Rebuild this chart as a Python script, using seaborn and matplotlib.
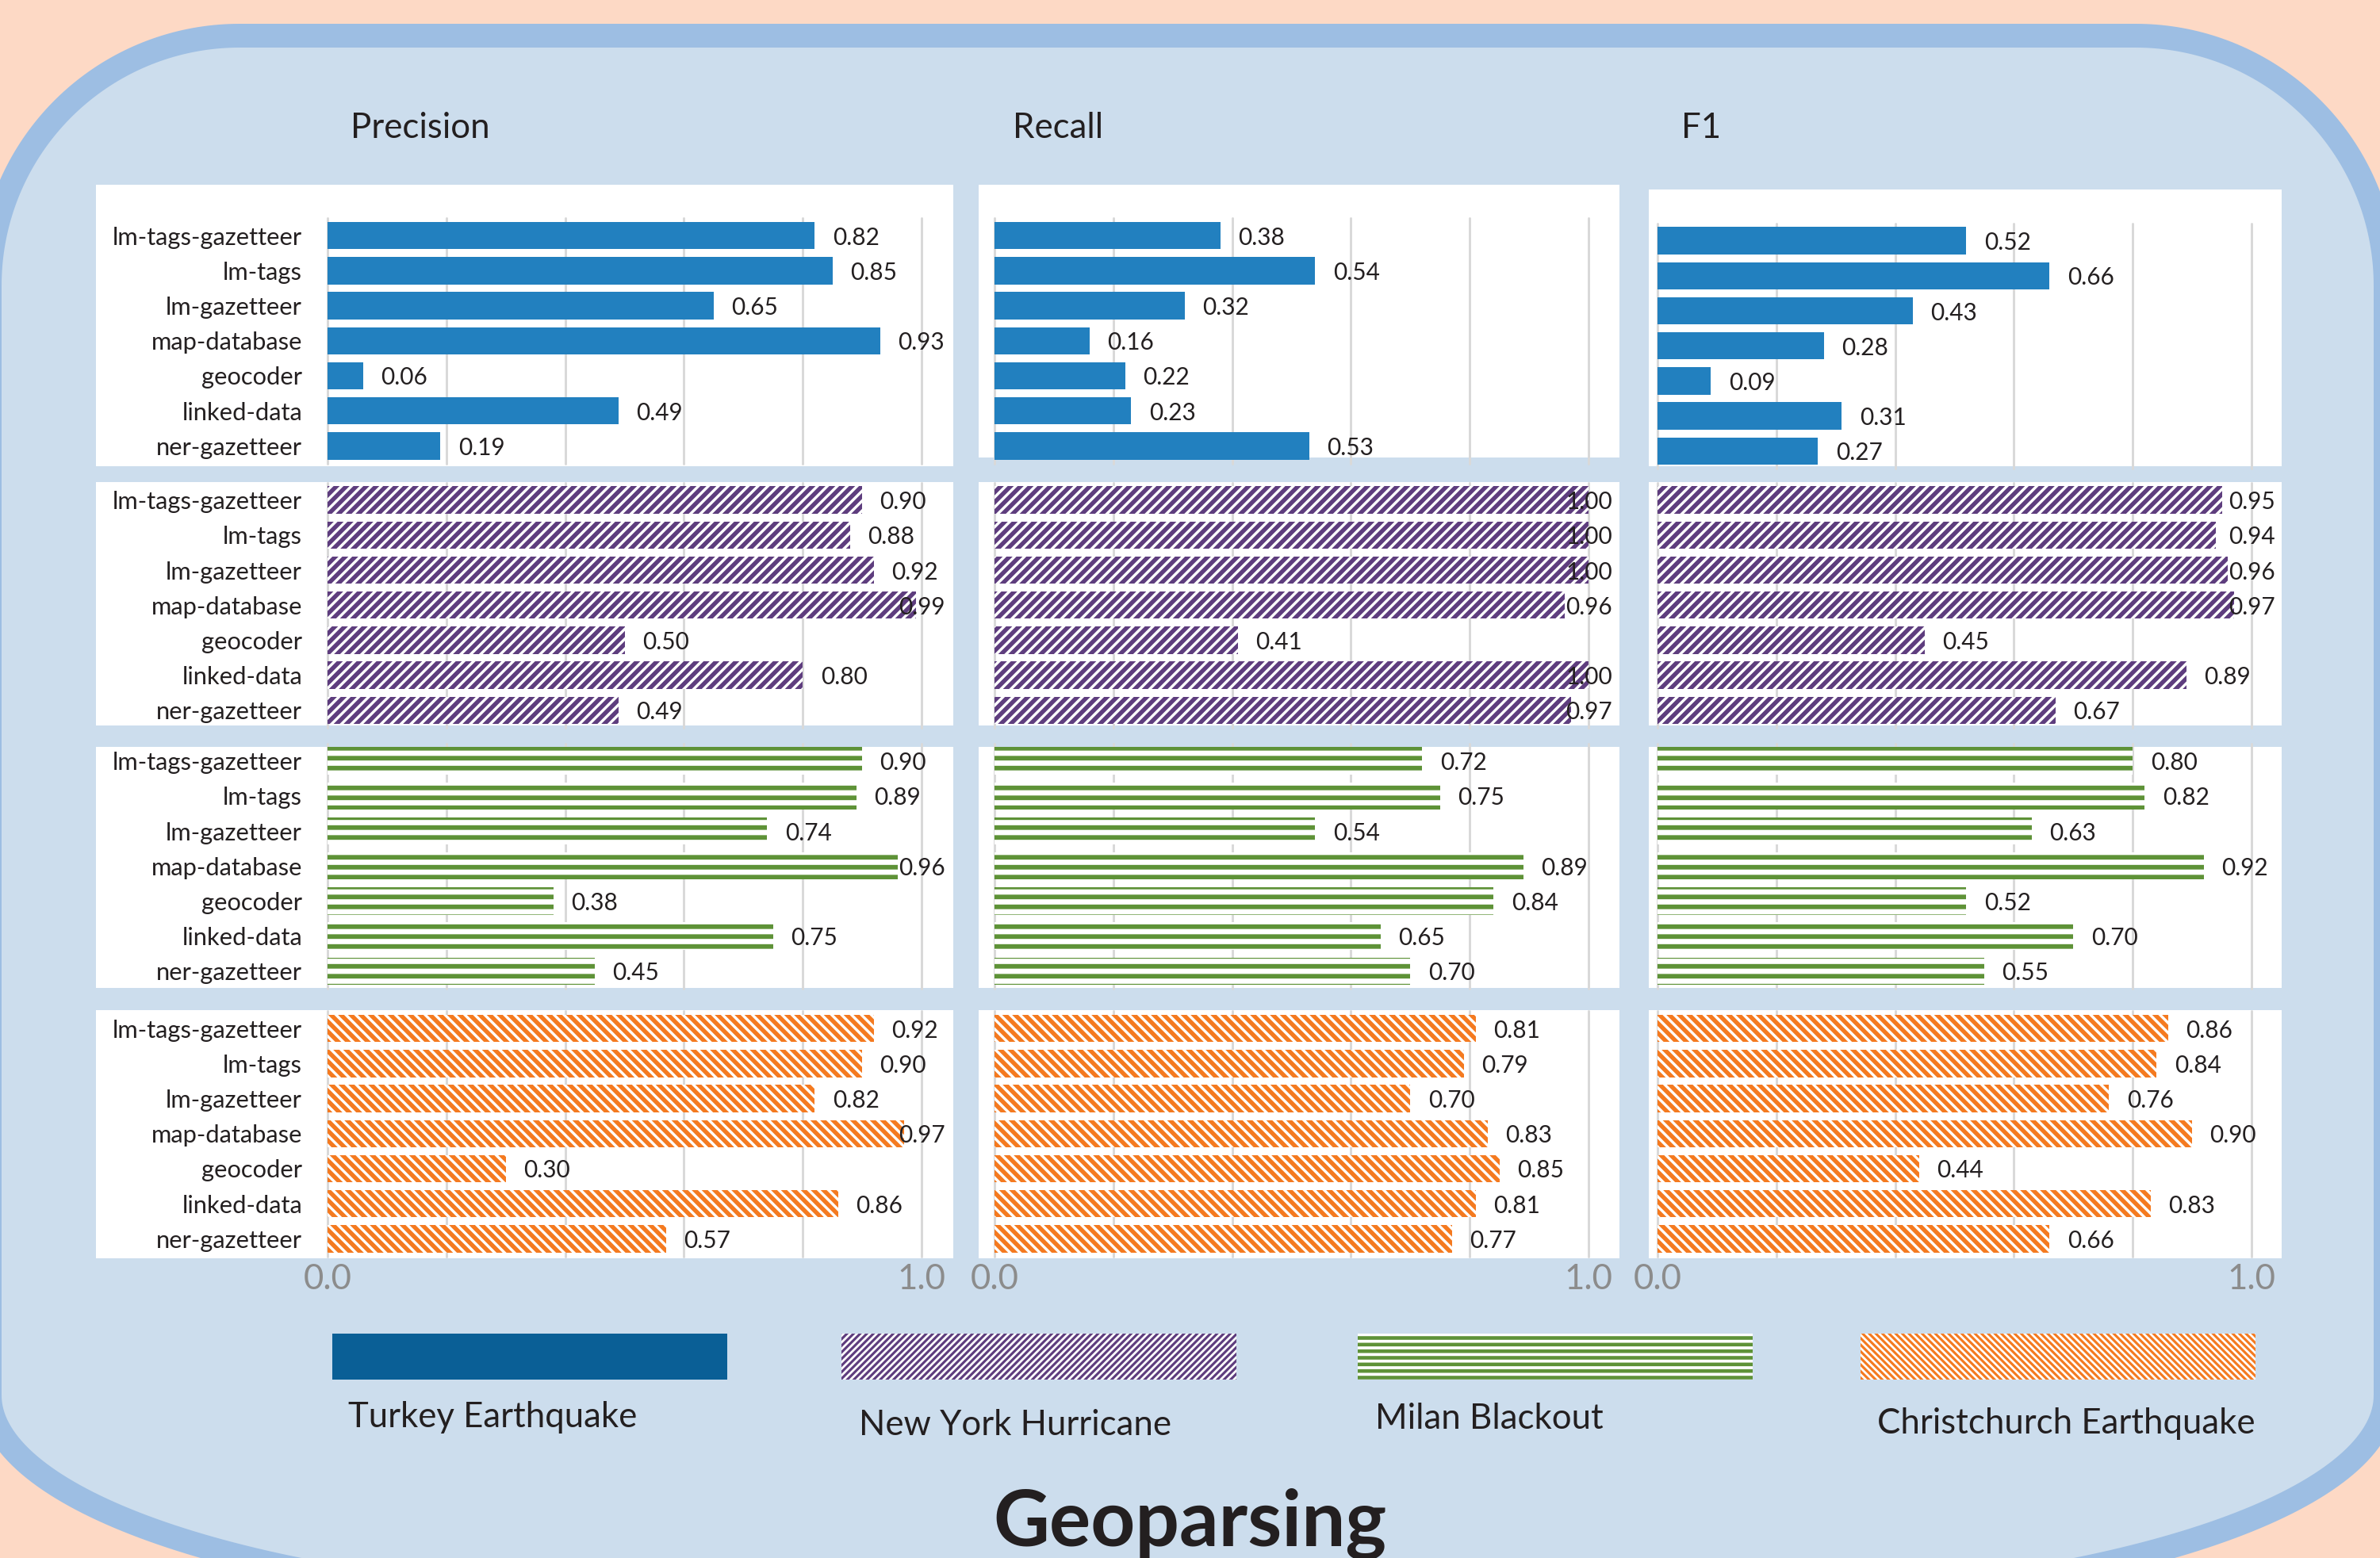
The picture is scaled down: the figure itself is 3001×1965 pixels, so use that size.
import numpy as np
import pandas as pd
import matplotlib.pyplot as plt
import seaborn as sns
from matplotlib.patches import Rectangle, Polygon

sns.set_style('white')
plt.rcParams['font.family'] = ['Lato', 'DejaVu Sans']
plt.rcParams['hatch.linewidth'] = 2.8

# ---- data ----
methods = ['lm-tags-gazetteer', 'lm-tags', 'lm-gazetteer', 'map-database',
           'geocoder', 'linked-data', 'ner-gazetteer']
metrics = ['Precision', 'Recall', 'F1']
events = ['Turkey Earthquake', 'New York Hurricane', 'Milan Blackout', 'Christchurch Earthquake']

turkey_precision = [0.82, 0.85, 0.65, 0.93, 0.06, 0.49, 0.19]
turkey_recall = [0.38, 0.54, 0.32, 0.16, 0.22, 0.23, 0.53]
turkey_f1 = [0.52, 0.66, 0.43, 0.28, 0.09, 0.31, 0.27]

newyork_precision = [0.90, 0.88, 0.92, 0.99, 0.50, 0.80, 0.49]
newyork_recall = [1.00, 1.00, 1.00, 0.96, 0.41, 1.00, 0.97]
newyork_f1 = [0.95, 0.94, 0.96, 0.97, 0.45, 0.89, 0.67]

milan_precision = [0.90, 0.89, 0.74, 0.96, 0.38, 0.75, 0.45]
milan_recall = [0.72, 0.75, 0.54, 0.89, 0.84, 0.65, 0.70]
milan_f1 = [0.80, 0.82, 0.63, 0.92, 0.52, 0.70, 0.55]

christchurch_precision = [0.92, 0.90, 0.82, 0.97, 0.30, 0.86, 0.57]
christchurch_recall = [0.81, 0.79, 0.70, 0.83, 0.85, 0.81, 0.77]
christchurch_f1 = [0.86, 0.84, 0.76, 0.90, 0.44, 0.83, 0.66]

scores = [
    [turkey_precision, turkey_recall, turkey_f1],
    [newyork_precision, newyork_recall, newyork_f1],
    [milan_precision, milan_recall, milan_f1],
    [christchurch_precision, christchurch_recall, christchurch_f1],
]

# ---- styles ----
bar_colors = ['#2280BF', '#5E3D7E', '#5E9237', '#F47A20']
bar_hatches = [None, '////', '--', '\\\\\\\\']
hatch_widths = [None, 2.6, 2.8, 2.6]
legend_colors = ['#0A5F96', '#5E3D7E', '#5E9237', '#F47A20']
legend_hatches = [None, '//////', '---', '\\\\\\\\\\\\']
legend_hatch_widths = [None, 1.5, 2.2, 1.5]
txt = '#231F20'

W, H = 3001, 1965
px = 72 / 150

fig = plt.figure(figsize=(W / 150, H / 150), dpi=150, facecolor='#FDD9C5')
bg = fig.add_axes([0, 0, 1, 1], zorder=-10)
bg.set_xlim(0, W)
bg.set_ylim(H, 0)
bg.axis('off')

# rounded frame
def corner(cx, cy, rx, ry, t0, t1):
    t = np.linspace(t0, t1, 80)
    return np.column_stack([cx + rx * np.cos(t), cy + ry * np.sin(t)])

frame = np.vstack([corner(302, 360, 315, 315, np.pi, 1.5 * np.pi),
                   corner(2693, 360, 315, 315, 1.5 * np.pi, 2 * np.pi),
                   corner(2123, 1760, 885, 265, 0, 0.5 * np.pi),
                   corner(872, 1760, 885, 265, 0.5 * np.pi, np.pi)])
bg.add_patch(Polygon(frame, closed=True, facecolor='#CCDDED', edgecolor='#9DBEE3',
                     linewidth=30 * px, joinstyle='round'))

# white panels
panel_x = [(121, 1202), (1234, 2042), (2079, 2877)]
panel_y = [(233, 588), (608, 915), (942, 1246), (1274, 1587)]
for i in range(4):
    for j in range(3):
        y0, y1 = panel_y[i]
        if i == 0 and j == 1:
            y1 = 577
        if i == 0 and j == 2:
            y0 = 239
        x0, x1 = panel_x[j]
        bg.add_patch(Rectangle((x0, y0), x1 - x0, y1 - y0, facecolor='white', edgecolor='none'))

# column titles
for name, x in zip(metrics, [442, 1277, 2120]):
    bg.text(x, 162, name, fontsize=21, color=txt, ha='left', va='center')

# bar panels
col_x = [413, 1254, 2090]
col_w = 749
row_top = [275, 608.5, 937.5, 1275]
row_h = 309.5

for i in range(4):
    for j in range(3):
        top = row_top[i] + (6.5 if (i == 0 and j == 2) else 0)
        ax = fig.add_axes([col_x[j] / W, 1 - (top + row_h) / H, col_w / W, row_h / H])
        ax.patch.set_alpha(0)
        vals = scores[i][j]
        sns.barplot(x=vals, y=methods, orient='h', color=bar_colors[i], saturation=1,
                    width=0.78, linewidth=0, ax=ax)
        if bar_hatches[i]:
            for p in ax.patches:
                p.set_facecolor('white')
                p.set_edgecolor(bar_colors[i])
                p.set_linewidth(0)
                p.set_hatch(bar_hatches[i])
                if hasattr(p, 'set_hatch_linewidth'):
                    p.set_hatch_linewidth(hatch_widths[i])
        ax.set_xlim(0, 1)
        ax.set_ylim(6.5, -0.5)
        ax.set_xticks(np.linspace(0, 1, 6))
        ax.grid(axis='x', color='#D9D9D9', linewidth=3 * px)
        ax.grid(axis='y', visible=False)
        ax.set_axisbelow(True)
        for gl in ax.get_xgridlines():
            gl.set_clip_on(False)
        for s in ax.spines.values():
            s.set_visible(False)
        ax.tick_params(length=0)
        ax.set_xlabel('')
        ax.set_ylabel('')
        if j == 0:
            ax.set_yticks(range(len(methods)))
            ax.set_yticklabels(methods, fontsize=14.8, color=txt)
            ax.tick_params(axis='y', pad=32 * px)
        else:
            ax.set_yticklabels([])
        if i == 3:
            ax.set_xticklabels(['0.0', '', '', '', '', '1.0'], fontsize=21, color='#8C8C8C')
            ax.tick_params(axis='x', pad=9 * px)
        else:
            ax.set_xticklabels([])
        for k, v in enumerate(vals):
            if v + 0.11 > 1.04:
                ax.text(1.04, k, f'{v:.2f}', ha='right', va='center_baseline',
                        fontsize=14.3, color=txt)
            else:
                ax.text(v + 0.03, k, f'{v:.2f}', ha='left', va='center_baseline',
                        fontsize=14.3, color=txt)

# legend
leg_x = [419, 1061, 1712, 2346]
lab_x = [439, 1083, 1734, 2367]
lab_y = [1788, 1797, 1790, 1796]
for e, name in enumerate(events):
    if legend_hatches[e]:
        r = Rectangle((leg_x[e], 1682), 498, 58, facecolor='white',
                      edgecolor=legend_colors[e], linewidth=0, hatch=legend_hatches[e])
        if hasattr(r, 'set_hatch_linewidth'):
            r.set_hatch_linewidth(legend_hatch_widths[e])
    else:
        r = Rectangle((leg_x[e], 1682), 498, 58, facecolor=legend_colors[e], edgecolor='none')
    bg.add_patch(r)
    bg.text(lab_x[e], lab_y[e], name, fontsize=21, color=txt, ha='left', va='center')

bg.text(1500, 1950, 'Geoparsing', fontsize=47, fontweight='bold', color=txt,
        ha='center', va='baseline')

fig.savefig('out.png', dpi=150, facecolor=fig.get_facecolor())
